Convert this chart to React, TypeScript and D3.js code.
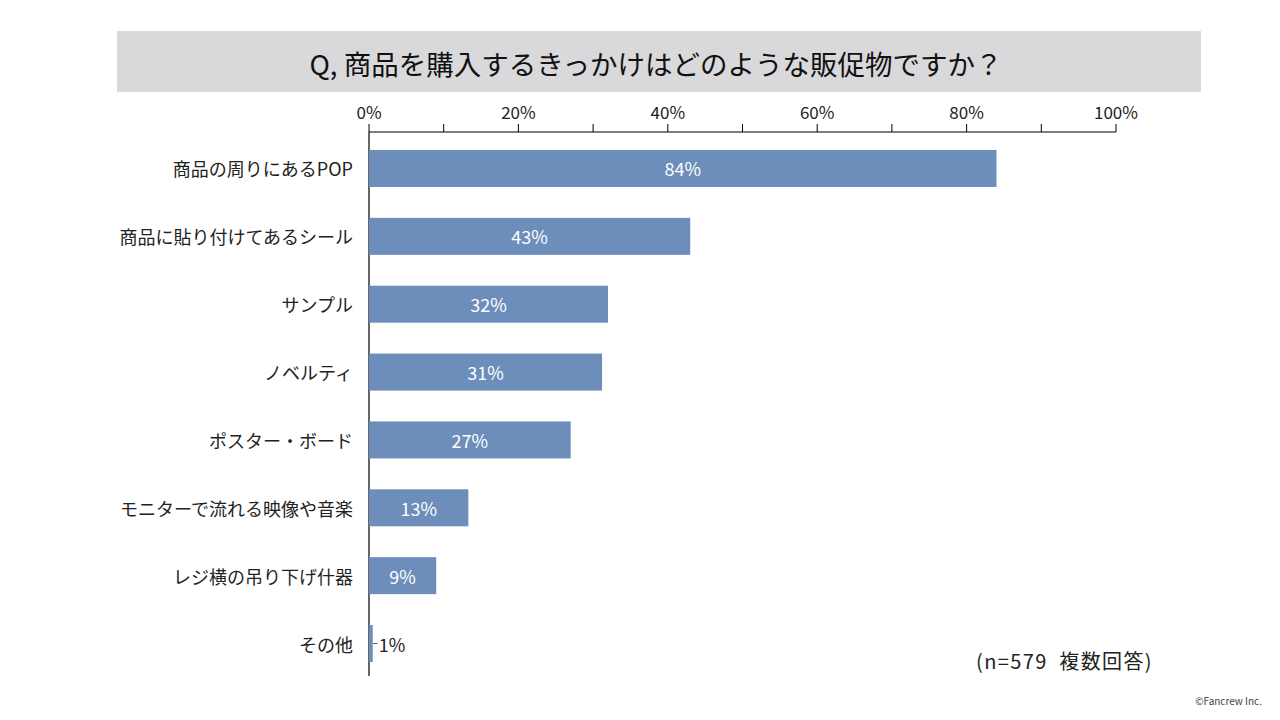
import React from "react";
import * as d3 from "d3";

const categories = [
  "商品の周りにあるPOP",
  "商品に貼り付けてあるシール",
  "サンプル",
  "ノベルティ",
  "ポスター・ボード",
  "モニターで流れる映像や音楽",
  "レジ横の吊り下げ什器",
  "その他",
];
const values = [84, 43, 32, 31.2, 27, 13.3, 9, 0.5];
const tickValues = [0, 20, 40, 60, 80, 100];
const minorTicks = [0, 10, 20, 30, 40, 50, 60, 70, 80, 90, 100];

const title = "Q, 商品を購入するきっかけはどのような販促物ですか？";
const note = "(n=579\u2002複数回答)";
const credit = "©Fancrew Inc.";

const FONT = "'Noto Sans CJK JP', 'Noto Sans', sans-serif";

export default function App() {
  const W = 1280;
  const H = 720;
  const x = d3.scaleLinear().domain([0, 100]).range([369, 1116]);
  const y = d3.scaleBand().domain(categories).range([132, 680]).paddingInner(0.455).paddingOuter(0.265);
  const barColor = "#6d8dba";

  return (
    <svg width={W} height={H} style={{ position: "absolute", left: 0, top: 0, background: "#fff" }} fontFamily={FONT}>
      <rect x={117} y={31} width={1084} height={61} fill="#d9d9db" />
      <text x={656} y={63} textAnchor="middle" dominantBaseline="central" fontSize={27.5} fill="#111">
        {title}
      </text>

      {/* top axis */}
      <line x1={x(0)} x2={x(100)} y1={132} y2={132} stroke="#000" strokeWidth={1.2} />
      {minorTicks.map((t) => (
        <line key={t} x1={x(t)} x2={x(t)} y1={124} y2={132} stroke="#000" strokeWidth={1} />
      ))}
      {tickValues.map((t) => (
        <text key={t} x={x(t)} y={111} textAnchor="middle" dominantBaseline="central" fontSize={17} fill="#222">
          {t}%
        </text>
      ))}

      {/* vertical axis */}
      <line x1={x(0)} x2={x(0)} y1={132} y2={676} stroke="#000" strokeWidth={1.2} />

      {categories.map((c, i) => {
        const v = values[i];
        const by = y(c)!;
        const bh = y.bandwidth();
        const cy = by + bh / 2;
        const inside = v >= 5;
        return (
          <g key={c}>
            <rect x={x(0)} y={by} width={x(v) - x(0)} height={bh} fill={barColor} />
            <text x={353} y={cy} textAnchor="end" dominantBaseline="central" fontSize={18} fill="#222">
              {c}
            </text>
            {inside ? (
              <text x={(x(0) + x(v)) / 2} y={cy} textAnchor="middle" dominantBaseline="central" fontSize={18} fill="#fff">
                {Math.round(v)}%
              </text>
            ) : (
              <g>
                <line x1={x(v)} x2={x(v) + 5} y1={cy} y2={cy} stroke="#666" strokeWidth={1} />
                <text x={x(v) + 6} y={cy} textAnchor="start" dominantBaseline="central" fontSize={18} fill="#222">
                  {Math.max(1, Math.round(v))}%
                </text>
              </g>
            )}
          </g>
        );
      })}

      <text x={1153} y={660} textAnchor="end" dominantBaseline="central" fontSize={20} letterSpacing={1.4} fill="#222">
        {note}
      </text>
      <text x={1262} y={700} textAnchor="end" dominantBaseline="central" fontSize={10} fill="#444">
        {credit}
      </text>
    </svg>
  );
}
